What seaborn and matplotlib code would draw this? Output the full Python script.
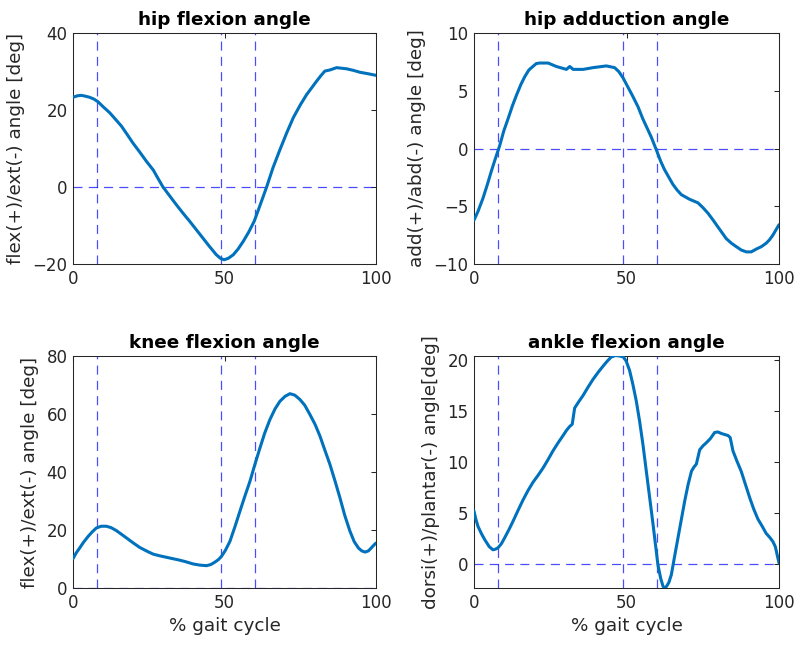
import numpy as np
import pandas as pd
import matplotlib
matplotlib.use("Agg")
import matplotlib.pyplot as plt
import seaborn as sns

# ---------------- data ----------------
hip_flex_x = [0, 1.5, 2.75, 4, 5.5, 7, 8.3, 10, 12.1, 14, 16, 18, 19.8, 22, 24.2, 26.5, 28, 29.7,
              31.8, 34.1, 36.3, 38.5, 40.7, 42.9, 45, 47.3, 48.8, 49.9, 51.3, 52.9, 54.5, 56.2,
              58, 59.8, 61.8, 63.9, 66, 68.3, 70.5, 72.7, 75, 77.1, 79, 80.4, 81.8, 83.1, 84.8,
              87, 90.3, 92.5, 94.7, 97.5, 100]
hip_flex_y = [23.3, 23.7, 23.8, 23.6, 23.3, 22.8, 22.1, 20.8, 19.3, 17.6, 15.8, 13.5, 11.4, 9.1,
              6.7, 4.4, 2.3, 0.0, -2.2, -4.6, -6.8, -8.9, -11.1, -13.3, -15.4, -17.6, -18.6, -18.9,
              -18.5, -17.6, -16.1, -14.1, -11.7, -8.9, -4.6, 0.0, 5.0, 9.7, 14.0, 18.0, 21.3, 24.0,
              26.0, 27.5, 28.9, 30.1, 30.4, 31.0, 30.7, 30.3, 29.8, 29.4, 29.0]

hip_add_x = [0, 1.3, 2.95, 4.4, 5.7, 7.1, 8.4, 9.8, 11.2, 12.6, 13.9, 15.3, 16.6, 18, 19.3, 20.4,
             21.5, 24.3, 27, 30.3, 31.4, 32.5, 35.8, 39, 43.4, 46.1, 47.5, 48.9, 50.5, 52.1, 53.8,
             55.3, 56.7, 58.1, 59.9, 61.2, 62.4, 63.9, 65.2, 66.6, 68, 70.7, 73.4, 75, 76.7, 78.4,
             80, 82.7, 84.4, 86, 87.7, 89.3, 90.9, 92.6, 94.2, 95.8, 96.9, 98, 99.1, 100]
hip_add_y = [-6.2, -5.45, -4.3, -3.1, -1.95, -0.8, 0.23, 1.55, 2.6, 3.7, 4.6, 5.5, 6.2, 6.8, 7.1,
             7.35, 7.4, 7.4, 7.1, 6.85, 7.1, 6.85, 6.85, 7.0, 7.15, 7.0, 6.65, 6.1, 5.3, 4.5, 3.6,
             2.6, 1.8, 1.0, -0.2, -1.1, -1.8, -2.5, -3.1, -3.6, -4.0, -4.4, -4.7, -5.1, -5.6, -6.2,
             -6.8, -7.8, -8.2, -8.5, -8.8, -8.95, -8.95, -8.7, -8.5, -8.2, -7.9, -7.5, -7.0, -6.6]

knee_x = [0, 1, 2.2, 3.5, 5, 6.3, 7.7, 9.3, 11, 12.6, 14.3, 15.9, 17.6, 19.8, 22, 24.2, 26.4, 28.6,
          30.8, 33, 35.2, 37.4, 39.6, 41.8, 44.1, 45.5, 46.8, 48, 49, 50.3, 51.8, 53.4, 55.1, 56.7,
          58.4, 60, 61.7, 63.3, 65, 66.7, 68.3, 70, 71.6, 73.2, 74.9, 76.5, 78.2, 79.9, 81.5, 83.1,
          84.8, 86.5, 88.1, 89.7, 91.4, 92.8, 94.2, 95.3, 96.4, 97.5, 98.6, 99.3, 100]
knee_y = [10.1, 12.0, 13.8, 15.8, 17.8, 19.3, 20.7, 21.3, 21.3, 20.8, 19.8, 18.6, 17.3, 15.6, 14.0,
          12.8, 11.7, 11.1, 10.6, 10.1, 9.6, 9.0, 8.3, 7.9, 7.7, 8.1, 8.9, 9.8, 10.9, 13.0, 16.1,
          21.0, 26.5, 31.6, 36.8, 42.5, 48.3, 53.5, 58.1, 61.8, 64.4, 66.1, 67.0, 66.5, 65.0, 63.0,
          59.8, 56.4, 52.4, 47.6, 42.6, 36.8, 31.1, 25.0, 19.6, 16.0, 13.8, 12.8, 12.4, 12.8, 14.0,
          14.8, 15.5]

ankle_x = [0, 0.6, 1.3, 2.4, 3.5, 5, 6.2, 7, 7.9, 9, 10.1, 11.5, 12.8, 14.5, 16.1, 17.7, 19.3, 21,
           22.6, 24.2, 25.9, 27.6, 29.2, 30.3, 31.4, 32.2, 33, 34.3, 35.7, 37.3, 39, 40.7, 42.3,
           43.7, 45, 46.4, 47.8, 49, 49.9, 51, 52.1, 53.2, 54.3, 55.4, 56.5, 57.6, 58.7, 59.5, 60.3,
           61.2, 62, 62.6, 63.1, 63.9, 64.7, 65.8, 66.9, 68, 69.1, 70.2, 71.3, 72.1, 72.9, 74, 75.1,
           76.2, 77.5, 78.9, 80, 81.1, 83.3, 84, 84.9, 86.2, 87.6, 89, 90.4, 91.7, 93.1, 94.5, 95.8,
           97, 98, 98.8, 99.4, 100]
ankle_y = [5.2, 4.4, 3.7, 3.0, 2.4, 1.7, 1.4, 1.45, 1.6, 2.0, 2.6, 3.4, 4.2, 5.3, 6.3, 7.2, 8.0, 8.7,
           9.4, 10.2, 11.1, 11.9, 12.6, 13.1, 13.5, 13.7, 15.3, 15.9, 16.5, 17.3, 18.1, 18.8, 19.4,
           19.9, 20.3, 20.45, 20.4, 20.3, 19.9, 19.0, 17.6, 16.0, 14.0, 11.7, 9.1, 6.5, 3.9, 1.9,
           -0.07, -1.4, -2.2, -2.35, -2.2, -1.8, -1.05, 0.8, 2.6, 4.4, 6.2, 7.8, 9.1, 9.5, 9.8, 11.2,
           11.6, 11.9, 12.3, 12.9, 12.95, 12.8, 12.6, 12.4, 11.1, 10.1, 9.1, 7.8, 6.5, 5.4, 4.4, 3.7,
           3.0, 2.6, 2.2, 1.7, 0.9, 0.1]

event_lines = [8, 49, 60]

titles = ["hip flexion angle", "hip adduction angle", "knee flexion angle", "ankle flexion angle"]
ylabels = ["flex(+)/ext(-) angle [deg]", "add(+)/abd(-) angle [deg]",
           "flex(+)/ext(-) angle [deg]", "dorsi(+)/plantar(-) angle[deg]"]
ylims = [(-20, 40), (-10, 10), (0, 80), (-2.35, 20.4)]
yticks = [[-20, 0, 20, 40], [-10, -5, 0, 5, 10], [0, 20, 40, 60, 80], [0, 5, 10, 15, 20]]
xticks = [0, 50, 100]
xlabel = "% gait cycle"

# ---------------- style ----------------
sns.set_style("white")
plt.rcParams["font.family"] = ["DejaVu Sans"]
plt.rcParams["lines.scale_dashes"] = False
plt.rcParams["lines.solid_joinstyle"] = "round"
edge = "#262626"

fig = plt.figure(figsize=(7.95, 6.55), dpi=100)
positions = [
    [73 / 795, 1 - 264 / 655, 303 / 795, 231 / 655],
    [474 / 795, 1 - 264 / 655, 305 / 795, 231 / 655],
    [73 / 795, 1 - 588 / 655, 303 / 795, 232 / 655],
    [474 / 795, 1 - 588 / 655, 305 / 795, 232 / 655],
]
series = [(hip_flex_x, hip_flex_y), (hip_add_x, hip_add_y), (knee_x, knee_y), (ankle_x, ankle_y)]

for i, (pos, (xs, ys)) in enumerate(zip(positions, series)):
    ax = fig.add_axes(pos)
    df = pd.DataFrame({"x": xs, "y": ys})
    for xv in event_lines:
        ax.axvline(xv, color="blue", lw=0.9, alpha=0.7, dashes=(6.5, 4.5), zorder=1)
    ax.axhline(0, color="blue", lw=0.9, alpha=0.7, dashes=(6.5, 4.5), zorder=1)
    sns.lineplot(data=df, x="x", y="y", ax=ax, color="#0072BD", lw=2.2, zorder=3, sort=False)
    ax.set_xlim(0, 100)
    ax.set_ylim(*ylims[i])
    ax.set_xticks(xticks)
    ax.set_yticks(yticks[i])
    ax.tick_params(direction="in", length=3.5, width=0.75, colors=edge, labelsize=12,
                   top=True, right=True, pad=4)
    for s in ax.spines.values():
        s.set_color(edge)
        s.set_linewidth(0.75)
        s.set_visible(True)
    ax.set_title(titles[i], fontsize=13.2, fontweight="bold", color="black", pad=5.5)
    ax.set_ylabel(ylabels[i], fontsize=13.2, color=edge, labelpad=5)
    if i >= 2:
        ax.set_xlabel(xlabel, fontsize=13.2, color=edge, labelpad=4)
    else:
        ax.set_xlabel("")

fig.savefig("out.png", dpi=100)
